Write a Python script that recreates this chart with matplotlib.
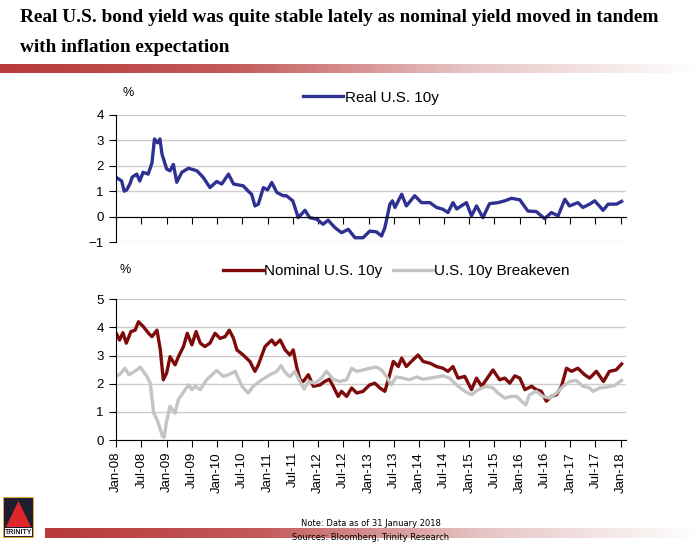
import numpy as np
import matplotlib
matplotlib.use("Agg")
import matplotlib.pyplot as plt
import matplotlib.dates as mdates
from matplotlib.patches import Rectangle, Polygon
from matplotlib.colors import LinearSegmentedColormap
from datetime import datetime

# months since Jan-2008 and values
real_m = [0, 1.3, 1.9, 2.5, 3.3, 3.8, 4.9, 5.6, 6.4, 7.6, 8.5, 9.1, 9.8, 10.4, 10.9,
          12.0, 12.8, 13.6, 14.4, 15.6, 17.2, 19.2, 20.7, 22.3, 23.9, 25.1, 26.7, 27.9,
          30.2, 31.4, 32.2, 33.0, 33.8, 35.0, 36.0, 37.0, 38.2, 39.7, 40.5, 42.0, 43.3,
          44.9, 46.0, 47.7, 49.2, 50.4, 52.0, 53.6, 55.2, 56.8, 58.7, 60.3, 61.9, 63.1,
          63.9, 65.1, 65.7, 66.3, 67.9, 69.0, 71.0, 72.6, 74.6, 76.2, 77.7, 78.9, 80.1,
          81.0, 81.7, 83.3, 84.5, 85.7, 87.2, 88.8, 90.8, 92.4, 94.0, 96.0, 97.9, 99.9,
          101.9, 103.5, 105.1, 106.7, 107.8, 109.8, 111.0, 112.6, 113.8, 115.8, 117.0,
          119.0, 120.2]
real_v = [1.54, 1.4, 1.0, 1.05, 1.3, 1.55, 1.67, 1.4, 1.74, 1.67, 2.1, 3.05, 2.9, 3.05, 2.45,
          1.87, 1.8, 2.05, 1.35, 1.74, 1.9, 1.8, 1.54, 1.14, 1.38, 1.28, 1.67, 1.28,
          1.21, 1.0, 0.88, 0.42, 0.49, 1.14, 1.05, 1.34, 0.95, 0.82, 0.82, 0.62, -0.04,
          0.25, -0.04, -0.1, -0.3, -0.14, -0.43, -0.63, -0.5, -0.83, -0.83, -0.57, -0.6, -0.76,
          -0.43, 0.49, 0.62, 0.36, 0.88, 0.42, 0.82, 0.55, 0.55, 0.36, 0.29, 0.16, 0.55,
          0.3, 0.38, 0.55, 0.03, 0.42, -0.04, 0.51, 0.55, 0.62, 0.72, 0.66, 0.22, 0.2,
          -0.08, 0.16, 0.03, 0.68, 0.42, 0.55, 0.36, 0.49, 0.62, 0.25, 0.49,
          0.49, 0.6]

nom_m = [0, 0.8, 1.6, 2.4, 3.5, 4.5, 5.3, 6.5, 7.7, 8.5, 9.7, 10.5, 11.2, 12.0, 12.8,
         14.0, 14.8, 16.0, 16.9, 18.0, 19.0, 20.0, 21.1, 22.3, 23.5, 24.7, 25.9, 26.9,
         27.9, 28.7, 30.2, 31.8, 33.0, 33.8, 35.4, 37.0, 37.8, 39.0, 40.2, 41.3, 42.1,
         42.9, 43.7, 44.5, 45.7, 46.9, 48.5, 49.6, 50.7, 51.6, 52.8, 53.6, 54.8, 56.0,
         57.2, 58.7, 60.3, 61.5, 62.7, 63.9, 64.7, 65.9, 67.1, 67.9, 69.0, 70.2, 71.8,
         73.0, 74.6, 76.2, 77.7, 78.9, 80.1, 81.3, 82.9, 84.5, 85.7, 86.9, 88.0, 89.6,
         91.2, 92.4, 93.6, 94.8, 96.0, 97.2, 98.8, 99.9, 101.1, 102.3, 103.5, 104.7,
         105.9, 107.1, 108.3, 109.8, 111.4, 112.6, 114.2, 115.9, 117.3, 118.9, 120.2]
nom_v = [3.79, 3.55, 3.81, 3.44, 3.85, 3.9, 4.2, 4.02, 3.79, 3.67, 3.9, 3.2, 2.14, 2.38, 2.96,
         2.67, 2.96, 3.32, 3.79, 3.38, 3.85, 3.44, 3.32, 3.44, 3.79, 3.61, 3.67, 3.9,
         3.61, 3.2, 3.02, 2.79, 2.44, 2.67, 3.32, 3.55, 3.38, 3.55, 3.2, 3.02, 3.2,
         2.61, 2.14, 2.08, 2.32, 1.91, 1.96, 2.08, 2.16, 1.91, 1.55, 1.73, 1.55, 1.85,
         1.67, 1.73, 1.96, 2.02, 1.85, 1.73, 2.14, 2.79, 2.61, 2.91, 2.61, 2.79, 3.02,
         2.79, 2.73, 2.61, 2.55, 2.44, 2.61, 2.2, 2.26, 1.79, 2.2, 1.91, 2.14, 2.49,
         2.14, 2.2, 2.02, 2.28, 2.2, 1.79, 1.91, 1.79, 1.73, 1.38, 1.55, 1.61,
         1.91, 2.55, 2.44, 2.55, 2.32, 2.2, 2.44, 2.08, 2.44, 2.49, 2.7]

be_m = [0, 1.0, 2.1, 3.0, 4.5, 5.7, 7.3, 8.1, 8.9, 9.7, 10.5, 11.0, 11.4, 11.9, 12.8,
        14.0, 14.8, 16.4, 17.2, 18.0, 18.8, 20.0, 21.5, 23.9, 25.5, 26.7, 28.3, 29.9,
        31.4, 32.6, 34.6, 36.6, 38.2, 39.2, 40.2, 41.3, 42.5, 43.7, 44.7, 45.7, 47.3,
        48.8, 50.0, 51.6, 53.2, 54.8, 56.0, 57.2, 58.7, 60.3, 61.9, 63.1, 64.3, 65.4,
        66.6, 68.2, 69.8, 71.4, 73.0, 74.6, 76.2, 77.7, 79.3, 80.9, 82.9, 84.5, 86.1,
        88.0, 89.6, 90.8, 92.4, 94.0, 95.2, 96.4, 97.4, 98.3, 99.9, 101.5, 103.1, 104.7,
        106.3, 107.8, 109.4, 111.0, 112.6, 113.4, 115.0, 116.6, 118.5, 120.2]
be_v = [2.26, 2.35, 2.55, 2.32, 2.45, 2.59, 2.26, 2.02, 0.96, 0.73, 0.38, 0.14, 0.1, 0.61, 1.2,
        0.96, 1.44, 1.79, 1.96, 1.79, 1.91, 1.79, 2.14, 2.47, 2.26, 2.32, 2.44, 1.91,
        1.67, 1.91, 2.14, 2.32, 2.44, 2.64, 2.4, 2.25, 2.44, 2.08, 1.81, 2.08, 2.02,
        2.2, 2.44, 2.16, 2.08, 2.14, 2.55, 2.44, 2.49, 2.55, 2.59, 2.49, 2.26, 1.96,
        2.24, 2.2, 2.14, 2.24, 2.16, 2.2, 2.24, 2.28, 2.2, 1.96, 1.73, 1.61, 1.79,
        1.91, 1.85, 1.67, 1.49, 1.55, 1.55, 1.38, 1.25, 1.61, 1.73, 1.55, 1.49, 1.67,
        1.91, 2.08, 2.12, 1.91, 1.85, 1.73, 1.85, 1.88, 1.93, 2.12]

tick_labels = ["Jan-08", "Jul-08", "Jan-09", "Jul-09", "Jan-10", "Jul-10", "Jan-11",
               "Jul-11", "Jan-12", "Jul-12", "Jan-13", "Jul-13", "Jan-14", "Jul-14",
               "Jan-15", "Jul-15", "Jan-16", "Jul-16", "Jan-17", "Jul-17", "Jan-18"]

start = mdates.date2num(datetime(2008, 1, 1))
def to_x(months):
    return start + np.array(months) * 30.4375

tick_pos = [mdates.date2num(datetime(2008 + i // 2, 1 + 6 * (i % 2), 1)) for i in range(len(tick_labels))]

plt.rcParams['font.family'] = ['Liberation Sans', 'DejaVu Sans']
fig = plt.figure(figsize=(7, 5.44), dpi=100)

BLUE = '#2E3192'
RED = '#7F0A0A'
GREY = '#C4C4C4'
GRID = '#CCCCCC'
xmin = start
xmax = mdates.date2num(datetime(2018, 2, 6))

def style(ax, ylo, yhi):
    ax.set_xlim(xmin, xmax)
    ax.set_ylim(ylo, yhi)
    ax.set_yticks(range(ylo, yhi + 1))
    ax.grid(axis='y', color=GRID, lw=1)
    ax.set_axisbelow(True)
    for s in ['top', 'right']:
        ax.spines[s].set_visible(False)
    ax.spines['bottom'].set_position(('data', 0))
    ax.set_xticks(tick_pos)
    ax.tick_params(axis='both', direction='out', length=5, width=0.8, labelsize=9.5, colors='black')
    ax.tick_params(axis='y', pad=4)

# top chart
ax1 = fig.add_axes([0.166, 0.555, 0.728, 0.234])
style(ax1, -1, 4)
ax1.plot(to_x(real_m), real_v, color=BLUE, lw=2.4, label='Real U.S. 10y', solid_joinstyle='round')
ax1.set_xticklabels([])
ax1.legend(loc='center', bbox_to_anchor=(0.50, 1.135), frameon=False, fontsize=11,
           handlelength=2.6, handletextpad=0.1, borderpad=0)
fig.text(128 / 700, 1 - 93 / 544, '%', fontsize=9, ha='center', va='center')

# bottom chart
ax2 = fig.add_axes([0.166, 0.191, 0.728, 0.259])
style(ax2, 0, 5)
ax2.plot(to_x(nom_m), nom_v, color=RED, lw=2.4, label='Nominal U.S. 10y', solid_joinstyle='round')
ax2.plot(to_x(be_m), be_v, color=GREY, lw=2.4, label='U.S. 10y Breakeven', solid_joinstyle='round')
ax2.set_xticklabels(tick_labels, rotation=90, fontsize=9.5)
ax2.legend(loc='center', bbox_to_anchor=(0.55, 1.20), frameon=False, fontsize=11, ncol=2,
           handlelength=2.6, handletextpad=0.1, columnspacing=0.7, borderpad=0)
fig.text(125 / 700, 1 - 270 / 544, '%', fontsize=9, ha='center', va='center')

# title
title_font = dict(family=['Liberation Serif', 'DejaVu Serif'], fontweight='bold', fontsize=13.9)
fig.text(20 / 700, 1 - 17 / 544, 'Real U.S. bond yield was quite stable lately as nominal yield moved in tandem',
         ha='left', va='center', **title_font)
fig.text(20 / 700, 1 - 47 / 544, 'with inflation expectation', ha='left', va='center', **title_font)

# gradient bars
grad = np.linspace(0, 1, 256).reshape(1, -1)
cmap = LinearSegmentedColormap.from_list('bar', ['#B83A3A', '#C45A5A', '#E7C4C4', '#FFFFFF'])
bar1 = fig.add_axes([0, 1 - 73 / 544, 1.0, 9 / 544])
bar1.imshow(grad, aspect='auto', cmap=cmap, extent=[0, 1, 0, 1])
bar1.axis('off')
bar2 = fig.add_axes([45 / 700, 1 - 538 / 544, 655 / 700, 10 / 544])
bar2.imshow(grad, aspect='auto', cmap=cmap, extent=[0, 1, 0, 1])
bar2.axis('off')

# footer text
fig.text(371 / 700, 1 - 524 / 544, 'Note: Data as of 31 January 2018', ha='center', va='center',
         fontsize=6, family=['DejaVu Sans'])
fig.text(371 / 700, 1 - 538 / 544, 'Sources: Bloomberg, Trinity Research', ha='center', va='center',
         fontsize=6, family=['DejaVu Sans'])

# logo
logo = fig.add_axes([3 / 700, 1 - 538 / 544, 31 / 700, 41 / 544])
logo.set_xlim(0, 31)
logo.set_ylim(41, 0)
logo.axis('off')
logo.add_patch(Rectangle((0, 0), 31, 41, facecolor='#1E1E2E', edgecolor='#E8A33A', lw=1.5))
logo.add_patch(Polygon([[15.5, 4], [3, 30], [28, 30]], closed=True, facecolor='#E0262A', edgecolor='none'))
logo.add_patch(Rectangle((2, 31), 27, 8, facecolor='white', edgecolor='none'))
logo.text(15.5, 35.2, 'TRINITY', ha='center', va='center', fontsize=5, fontweight='bold', color='#1E1E2E')

fig.savefig('out.png', dpi=100)
